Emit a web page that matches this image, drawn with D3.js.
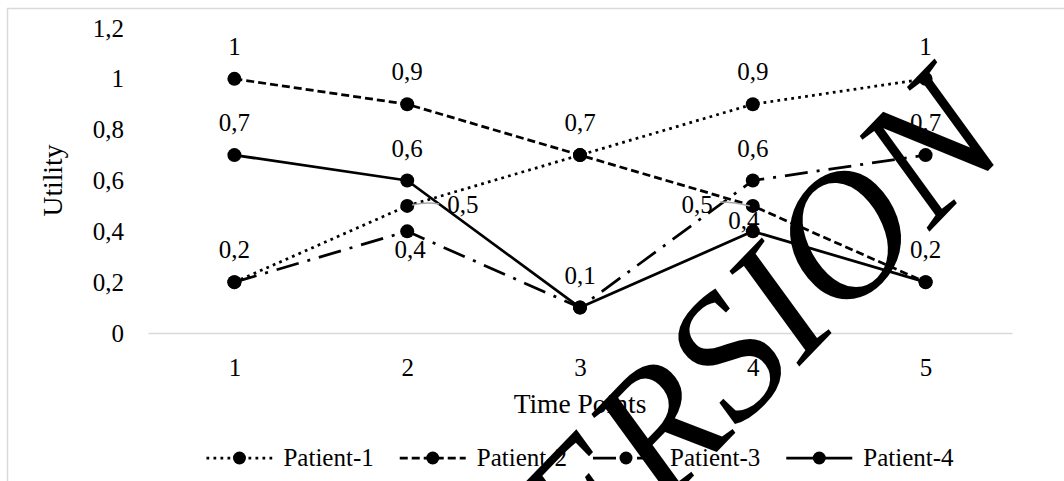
<!DOCTYPE html>
<html>
<head>
<meta charset="utf-8">
<script src="https://cdn.jsdelivr.net/npm/d3@7"></script>
<style>
  html, body { margin: 0; padding: 0; background: #fff; }
  svg { display: block; }
  svg text { font-family: "Liberation Serif", "Times New Roman", serif; fill: #000; }
</style>
</head>
<body>
<svg id="chart" width="1064" height="481" font-family="Liberation Serif, Times New Roman, serif"></svg>
<script>
// Utility scores per patient across five time points
const timePoints = ["1", "2", "3", "4", "5"];
const seriesNames = ["Patient-1", "Patient-2", "Patient-3", "Patient-4"];
const patient1 = [0.2, 0.5, 0.7, 0.9, 1];
const patient2 = [1, 0.9, 0.7, 0.5, 0.2];
const patient3 = [0.2, 0.4, 0.1, 0.6, 0.7];
const patient4 = [0.7, 0.6, 0.1, 0.4, 0.2];
const yTicks = [0, 0.2, 0.4, 0.6, 0.8, 1, 1.2];
const xTitle = "Time Points";
const yTitle = "Utility";
const stampText = "VERSION";

const seriesValues = [patient1, patient2, patient3, patient4];

// line styles per series: dotted, dashed, long dash-dot, solid
const dashes = ["2.75,4.25", "8,4", "23,9,3,9", null];

// data labels that sit somewhere other than above their point ("series-index")
const labelPlacement = { "0-1": "right", "1-3": "left", "2-1": "below", "3-3": "nudge" };

const svg = d3.select("#chart");
const W = 1064, H = 481;
const plot = { left: 148, right: 1012, top: 28, bottom: 333 };
const labelSize = 25, titleSize = 27.5;
const serif = "Liberation Serif, Times New Roman, serif";

const fmt = d3.formatLocale({ decimal: ",", thousands: ".", grouping: [3], currency: ["", ""] }).format("~g");

const x = d3.scalePoint().domain(timePoints).range([plot.left, plot.right]).padding(0.5);
const y = d3.scaleLinear().domain([0, 1.2]).range([plot.bottom, plot.top]);

// chart frame
svg.append("rect")
  .attr("x", 7.5).attr("y", 8.5).attr("width", W + 20).attr("height", H + 20)
  .attr("fill", "none").attr("stroke", "#d9d9d9").attr("stroke-width", 1.5);

// y axis labels (no line, no ticks)
const yAxis = svg.append("g")
  .attr("transform", `translate(${plot.left},0)`)
  .call(d3.axisLeft(y).tickValues(yTicks).tickFormat(fmt).tickSize(0).tickPadding(24));
yAxis.attr("font-family", serif).attr("font-size", labelSize);
yAxis.select(".domain").remove();
yAxis.selectAll("text").attr("font-family", serif).attr("font-size", labelSize);

// x axis: light category line at zero
const xAxis = svg.append("g")
  .attr("transform", `translate(0,${plot.bottom})`)
  .call(d3.axisBottom(x).tickSize(0).tickSizeOuter(0).tickPadding(25));
xAxis.attr("font-family", serif).attr("font-size", labelSize);
xAxis.select(".domain").attr("stroke", "#d9d9d9").attr("stroke-width", 1.5);
xAxis.selectAll("text").attr("font-family", serif).attr("font-size", labelSize);

// axis titles
svg.append("text")
  .attr("transform", `translate(62,${(plot.top + plot.bottom) / 2}) rotate(-90)`)
  .attr("text-anchor", "middle").attr("font-size", titleSize).text(yTitle);
svg.append("text")
  .attr("x", (plot.left + plot.right) / 2).attr("y", 413)
  .attr("text-anchor", "middle").attr("font-size", titleSize).text(xTitle);

// series lines and markers
const line = d3.line().x((d, i) => x(timePoints[i])).y(d => y(d));
seriesValues.forEach((vals, s) => {
  const g = svg.append("g");
  g.append("path")
    .attr("d", line(vals))
    .attr("fill", "none").attr("stroke", "#000").attr("stroke-width", 2.75)
    .attr("stroke-linejoin", "round")
    .attr("stroke-dasharray", dashes[s]);
  g.selectAll("circle").data(vals).join("circle")
    .attr("cx", (d, i) => x(timePoints[i])).attr("cy", d => y(d)).attr("r", 7)
    .attr("fill", "#000");
});

// data labels with leader lines for the shifted ones
const labels = svg.append("g");
seriesValues.forEach((vals, s) => {
  vals.forEach((v, i) => {
    const key = `${s}-${i}`;
    const place = labelPlacement[key] || "above";
    if (place === "above") {
      const dup = seriesValues.slice(0, s).some((o, k) => o[i] === v && !labelPlacement[`${k}-${i}`]);
      if (dup) return;
    }
    const px = x(timePoints[i]), py = y(v);
    const t = labels.append("text").attr("font-size", labelSize).text(fmt(v));
    if (place === "above") {
      t.attr("x", px).attr("y", py - 24).attr("text-anchor", "middle");
    } else if (place === "below") {
      t.attr("x", px + 3).attr("y", py + 27).attr("text-anchor", "middle");
    } else if (place === "right") {
      t.attr("x", px + 40).attr("y", py + 7).attr("text-anchor", "start");
      labels.append("path")
        .attr("d", `M${px + 5},${py - 1}Q${px + 18},${py - 4} ${px + 32},${py - 2}`)
        .attr("fill", "none").attr("stroke", "#a6a6a6").attr("stroke-width", 1.5);
    } else if (place === "left") {
      t.attr("x", px - 40).attr("y", py + 7).attr("text-anchor", "end");
      labels.append("path")
        .attr("d", `M${px - 33},${py - 4}Q${px - 18},${py - 4} ${px - 3},${py}`)
        .attr("fill", "none").attr("stroke", "#a6a6a6").attr("stroke-width", 1.5);
    } else {
      t.attr("x", px - 9).attr("y", py - 2).attr("text-anchor", "middle");
    }
  });
});

// legend
const legend = svg.append("g");
const swatch = 66, gapText = 11, gapItem = 26;
let cursor = 0;
seriesNames.forEach((name, s) => {
  const g = legend.append("g");
  g.append("line").attr("x1", 0).attr("x2", swatch).attr("y1", 0).attr("y2", 0)
    .attr("stroke", "#000").attr("stroke-width", 2.75).attr("stroke-dasharray", dashes[s]);
  g.append("circle").attr("cx", swatch / 2).attr("cy", 0).attr("r", 6.5).attr("fill", "#000");
  const t = g.append("text").attr("x", swatch + gapText).attr("y", 8).attr("font-size", labelSize).text(name);
  const w = swatch + gapText + t.node().getComputedTextLength();
  g.attr("transform", `translate(${cursor},0)`);
  cursor += w + gapItem;
});
const legendWidth = cursor - gapItem;
legend.attr("transform", `translate(${(plot.left + plot.right) / 2 - legendWidth / 2},458)`);

// diagonal stamp across the chart
svg.append("text")
  .attr("transform", "translate(762,405) rotate(-46)")
  .attr("text-anchor", "middle")
  .attr("font-size", 178).attr("font-style", "italic")
  .text(stampText);
</script>
</body>
</html>
